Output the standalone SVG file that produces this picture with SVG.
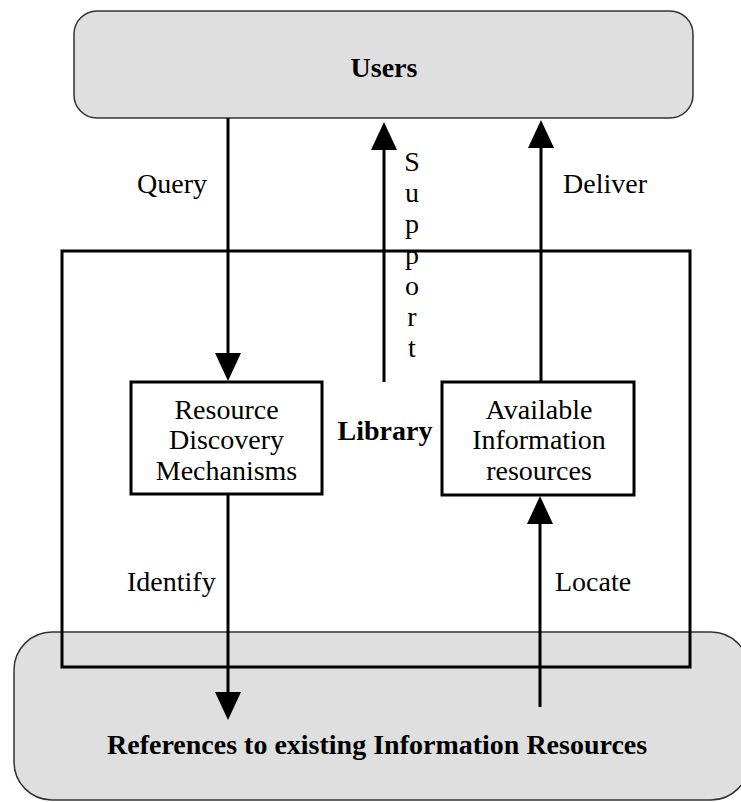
<svg xmlns="http://www.w3.org/2000/svg" width="741" height="802" viewBox="0 0 741 802">
  <style>
    .cloud { fill: #dfdfdf; stroke: #333333; stroke-width: 1.5; }
    .frame { fill: none; stroke: #000000; stroke-width: 3; }
    .box { fill: #ffffff; stroke: #000000; stroke-width: 3; }
    .conn { stroke: #000000; stroke-width: 3; fill: none; marker-end: url(#arrow); }
    .bold { font-family: "Liberation Serif", "Times New Roman", serif; font-weight: bold; font-size: 28px; fill: #000000; }
    .reg { font-family: "Liberation Serif", "Times New Roman", serif; font-size: 28px; fill: #000000; }
  </style>
  <defs>
    <marker id="arrow" markerUnits="userSpaceOnUse" markerWidth="28" markerHeight="26" viewBox="0 0 28 26" refX="4" refY="13" orient="auto">
      <path d="M0,0 L28,13 L0,26 Z" fill="#000000"/>
    </marker>
  </defs>
  <rect width="741" height="802" fill="#ffffff"/>

  <g id="users">
    <rect class="cloud" x="74" y="11" width="619" height="107" rx="23" ry="23"/>
    <text class="bold" x="384" y="77" text-anchor="middle">Users</text>
  </g>

  <g id="references">
    <rect class="cloud" x="14" y="632" width="735" height="168" rx="38" ry="38"/>
    <text class="bold" x="107" y="754">References to existing Information Resources</text>
  </g>

  <g id="library">
    <rect class="frame" x="62" y="251" width="628" height="416"/>
    <text class="bold" x="385" y="440" text-anchor="middle">Library</text>
  </g>

  <g id="rdm">
    <rect class="box" x="131" y="382" width="191" height="112"/>
    <text class="reg" x="226.5" y="419" text-anchor="middle">Resource</text>
    <text class="reg" x="226.5" y="449" text-anchor="middle">Discovery</text>
    <text class="reg" x="226.5" y="480" text-anchor="middle">Mechanisms</text>
  </g>

  <g id="available">
    <rect class="box" x="442" y="382" width="192" height="113"/>
    <text class="reg" x="539" y="419" text-anchor="middle">Available</text>
    <text class="reg" x="539" y="449" text-anchor="middle">Information</text>
    <text class="reg" x="539" y="480" text-anchor="middle">resources</text>
  </g>

  <g id="connectors">
    <line class="conn" x1="228" y1="118" x2="228" y2="357"/>
    <line class="conn" x1="384" y1="382" x2="384" y2="146"/>
    <line class="conn" x1="541" y1="382" x2="541" y2="144"/>
    <line class="conn" x1="228" y1="494" x2="228" y2="696"/>
    <line class="conn" x1="540" y1="707" x2="540" y2="520"/>
  </g>

  <g id="labels">
    <text class="reg" x="137" y="193">Query</text>
    <text class="reg" x="563" y="193">Deliver</text>
    <text class="reg" x="127" y="591">Identify</text>
    <text class="reg" x="555" y="591">Locate</text>
    <g class="reg" text-anchor="middle">
      <text x="412" y="171">S</text>
      <text x="412" y="202">u</text>
      <text x="412" y="233">p</text>
      <text x="412" y="264">p</text>
      <text x="412" y="295">o</text>
      <text x="412" y="326">r</text>
      <text x="412" y="357">t</text>
    </g>
  </g>
</svg>
